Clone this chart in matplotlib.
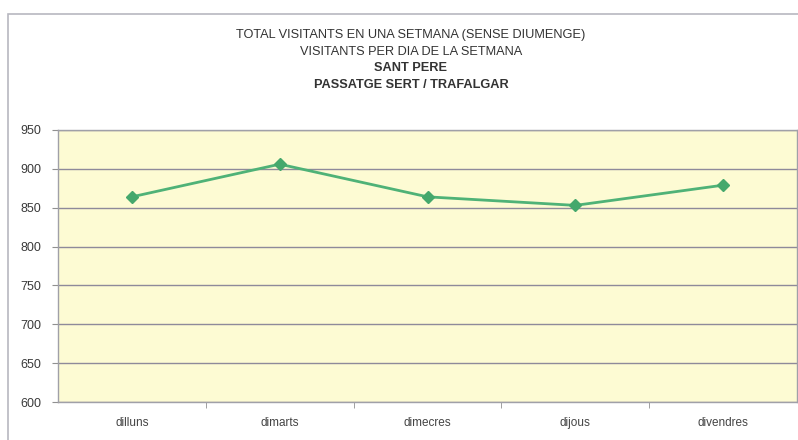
import matplotlib.pyplot as plt
from matplotlib.patches import Rectangle

plt.rcParams["font.family"] = ["Liberation Sans", "DejaVu Sans"]

dies = ["dilluns", "dimarts", "dimecres", "dijous", "divendres"]
visitants = [864, 906, 864, 853, 879]
yticks = [600, 650, 700, 750, 800, 850, 900, 950]
titol = [
    ("TOTAL VISITANTS EN UNA SETMANA (SENSE DIUMENGE)", "normal"),
    ("VISITANTS PER DIA DE LA SETMANA", "normal"),
    ("SANT PERE", "bold"),
    ("PASSATGE SERT / TRAFALGAR", "bold"),
]

fig = plt.figure(figsize=(7.98, 4.40), dpi=100)
W, H = 798, 440

# outer chart frame
fig.patches.append(Rectangle((8 / W, -0.05), 1.0, 1 - 14 / H + 0.05,
                             transform=fig.transFigure, fill=False,
                             edgecolor="#b8b8c0", linewidth=1.2))

ax = fig.add_axes([58 / W, 1 - 402 / H, 739 / W, 272 / H])
ax.set_facecolor("#fdfbd3")

x = range(len(dies))
ax.plot(x, visitants, color="#4fb277", linewidth=2, marker="D",
        markersize=6, markerfacecolor="#45a86c", markeredgecolor="#45a86c",
        zorder=3)

ax.set_xlim(-0.5, len(dies) - 0.5)
ax.set_ylim(600, 950)
ax.set_yticks(yticks)
ax.set_yticklabels([str(v) for v in yticks], fontsize=9, color="#3a3a3a")
ax.set_xticks(list(x))
ax.set_xticklabels(dies, fontsize=8.5, color="#444444")
ax.tick_params(axis="x", length=0, pad=11)
ax.tick_params(axis="y", length=4, color="#909090", pad=8)
ax.set_xticks([i + 0.5 for i in range(len(dies) - 1)], minor=True)
ax.tick_params(axis="x", which="minor", length=4, color="#909090")

ax.grid(axis="y", color="#8e8a9a", linewidth=1)
ax.set_axisbelow(True)
for s in ax.spines.values():
    s.set_color("#a0a0a8")
    s.set_linewidth(1)

for i, (t, w) in enumerate(titol):
    fig.text(411 / W, 1 - (35 + i * 16.7) / H, t, ha="center", va="center",
             fontsize=9.2, fontweight=w, color="#333333")

fig.savefig("out.png", dpi=100)
